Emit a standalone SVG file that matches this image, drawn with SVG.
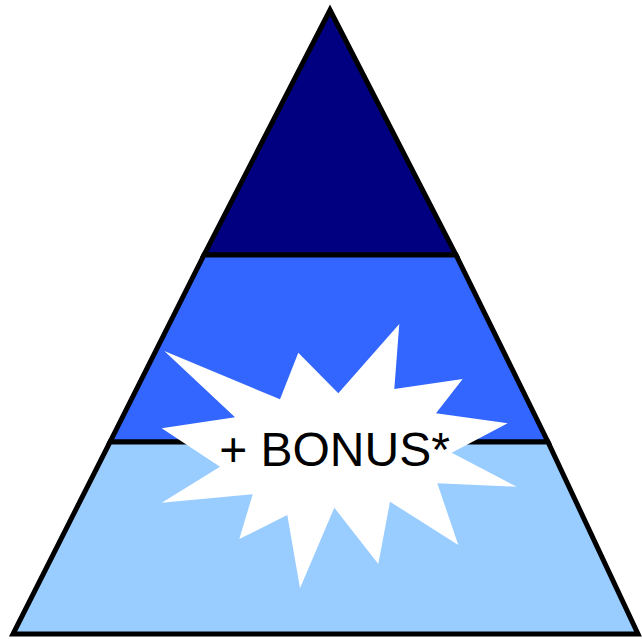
<svg xmlns="http://www.w3.org/2000/svg" width="642" height="639" viewBox="0 0 642 639">
<style>
.layer{stroke:#000;stroke-width:5;stroke-linejoin:miter}
.label{font-family:"Liberation Sans",Arial,sans-serif;font-size:48px;fill:#000}
</style>
<rect width="642" height="639" fill="#fff"/>
<g id="layer-top"><polygon class="layer" fill="#000080" points="330,10 456,255 204,255"/></g>
<g id="layer-middle"><polygon class="layer" fill="#3366FF" points="204,255 456,255 548,442 110,442"/></g>
<g id="layer-bottom"><polygon class="layer" fill="#99CCFF" points="110,442 548,442 638,634 13,634"/></g>
<g id="bonus">
<polygon fill="#fff" points="164.3,351 280,399.3 298.3,352.7 338.3,393.3 399.3,324 394.3,389 462.7,379 436,413.3 507.7,423.3 451.7,452.7 516.7,486.7 437.3,483.3 458.3,545 390,501.7 378.3,564 334.3,507.7 300,588.3 287.3,515 239.3,539 252.7,494.3 161.7,502.7 220,466.7 161.7,428.3 235,417.3"/>
<text class="label" x="334.5" y="466" text-anchor="middle">+ BONUS*</text>
</g>
<g id="connectors"/>
</svg>
